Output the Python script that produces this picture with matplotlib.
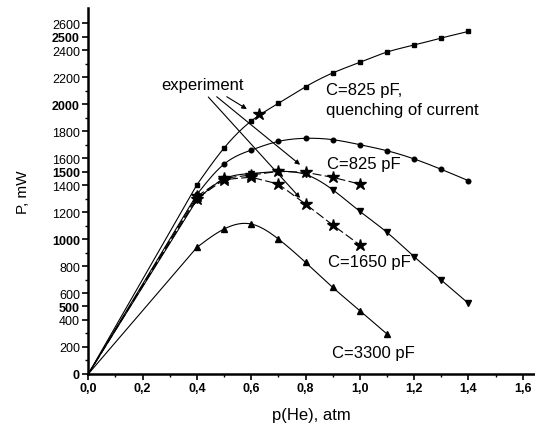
import numpy as np
import matplotlib
matplotlib.use("Agg")
import matplotlib.pyplot as plt

plt.rcParams['font.family'] = ['Liberation Sans', 'DejaVu Sans']

# ---- data ----
x_sq = [0.0, 0.4, 0.5, 0.6, 0.7, 0.8, 0.9, 1.0, 1.1, 1.2, 1.3, 1.4]
p_sq = [0, 1402, 1674, 1874, 2005, 2128, 2230, 2309, 2385, 2437, 2489, 2538]

x_ci = [0.0, 0.4, 0.5, 0.6, 0.7, 0.8, 0.9, 1.0, 1.1, 1.2, 1.3, 1.4]
p_ci = [0, 1330, 1555, 1659, 1723, 1746, 1736, 1699, 1654, 1593, 1516, 1432]

x_dt = [0.0, 0.4, 0.5, 0.6, 0.7, 0.8, 0.9, 1.0, 1.1, 1.2, 1.3, 1.4]
p_dt = [0, 1290, 1445, 1485, 1500, 1478, 1365, 1205, 1049, 869, 696, 523]

x_ut = [0.0, 0.4, 0.5, 0.6, 0.7, 0.8, 0.9, 1.0, 1.1]
p_ut = [0, 938, 1074, 1111, 1000, 827, 642, 469, 296]

x_exA = [0.0, 0.4, 0.5, 0.6, 0.7, 0.8, 0.9, 1.0]
p_exA = [0, 1316, 1450, 1474, 1501, 1494, 1457, 1407]

x_exB = [0.0, 0.4, 0.5, 0.6, 0.7, 0.8, 0.9, 1.0]
p_exB = [0, 1300, 1440, 1458, 1407, 1259, 1104, 956]

x_exQ = [0.63]
p_exQ = [1926]

y_ticks = [0, 200, 400, 500, 600, 800, 1000, 1200, 1400, 1500, 1600, 1800, 2000, 2200, 2400, 2500, 2600]
y_bold = [0, 500, 1000, 1500, 2000, 2500]
x_ticks = [0.0, 0.2, 0.4, 0.6, 0.8, 1.0, 1.2, 1.4, 1.6]


def natural_spline(x, y, n=30):
    x = np.asarray(x, float)
    y = np.asarray(y, float)
    m = len(x)
    h = np.diff(x)
    A = np.zeros((m, m))
    b = np.zeros(m)
    A[0, 0] = 1
    A[-1, -1] = 1
    for i in range(1, m - 1):
        A[i, i - 1] = h[i - 1]
        A[i, i] = 2 * (h[i - 1] + h[i])
        A[i, i + 1] = h[i]
        b[i] = 3 * ((y[i + 1] - y[i]) / h[i] - (y[i] - y[i - 1]) / h[i - 1])
    c = np.linalg.solve(A, b)
    xs, ys = [], []
    for i in range(m - 1):
        t = np.linspace(0, h[i], n, endpoint=(i == m - 2))
        bb = (y[i + 1] - y[i]) / h[i] - h[i] * (2 * c[i] + c[i + 1]) / 3
        d = (c[i + 1] - c[i]) / (3 * h[i])
        xs.append(x[i] + t)
        ys.append(y[i] + bb * t + c[i] * t ** 2 + d * t ** 3)
    return np.concatenate(xs), np.concatenate(ys)


def curve(x, y):
    sx, sy = natural_spline(x[1:], y[1:])
    return np.concatenate([[x[0]], sx]), np.concatenate([[y[0]], sy])


fig = plt.figure(figsize=(5.35, 4.27), dpi=100)
ax = fig.add_axes([0.165, 0.1218, 0.835, 0.857])

lw = 0.8
for xs, ps, mk, ms in [(x_sq, p_sq, 's', 3.0), (x_ci, p_ci, 'o', 3.3),
                       (x_dt, p_dt, 'v', 4.0), (x_ut, p_ut, '^', 4.0)]:
    cx, cy = curve(xs, ps)
    ax.plot(cx, cy, color='black', lw=lw)
    ax.plot(xs[1:], ps[1:], ls='none', marker=mk, ms=ms, color='black')

for xs, ps in [(x_exA, p_exA), (x_exB, p_exB)]:
    ax.plot(xs, ps, color='black', lw=lw, dashes=(8, 3))
    ax.plot(xs[1:], ps[1:], ls='none', marker='*', ms=9, color='black')
ax.plot(x_exQ, p_exQ, ls='none', marker='*', ms=9, color='black')

# annotations
ax.text(0.27, 2141, 'experiment', fontsize=12, va='center', ha='left')
arrow_kw = dict(arrowstyle='-|>', color='black', lw=0.8, mutation_scale=7, shrinkA=0, shrinkB=0)
ax.annotate('', xy=(0.584, 1963), xytext=(0.51, 2054), arrowprops=arrow_kw)
ax.annotate('', xy=(0.78, 1550), xytext=(0.473, 2054), arrowprops=arrow_kw)
ax.annotate('', xy=(0.78, 1304), xytext=(0.442, 2052), arrowprops=arrow_kw)

ax.text(0.874, 2111, 'C=825 pF,', fontsize=12, va='center', ha='left')
ax.text(0.874, 1963, 'quenching of current', fontsize=12, va='center', ha='left')
ax.text(0.88, 1563, 'C=825 pF', fontsize=12, va='center', ha='left')
ax.text(0.884, 835, 'C=1650 pF', fontsize=12, va='center', ha='left')
ax.text(0.896, 156, 'C=3300 pF', fontsize=12, va='center', ha='left')

ax.set_xlim(0, 1.645)
ax.set_ylim(0, 2711)

for s in ['top', 'right']:
    ax.spines[s].set_visible(False)
for s in ['left', 'bottom']:
    ax.spines[s].set_linewidth(1.8)

ax.set_xticks(x_ticks)
ax.set_xticklabels([f'{v:.1f}'.replace('.', ',') for v in x_ticks], fontweight='bold', fontsize=9)
ax.set_xticks(np.arange(0.1, 1.65, 0.2), minor=True)
ax.set_yticks(y_ticks)
ax.set_yticklabels([str(v) for v in y_ticks], fontsize=9)
for lab, v in zip(ax.get_yticklabels(), y_ticks):
    if v in y_bold:
        lab.set_fontweight('bold')
ax.set_yticks(np.arange(100, 2700, 100), minor=True)
ax.tick_params(axis='both', which='major', direction='out', length=4, width=1.2, pad=2)
ax.tick_params(axis='both', which='minor', direction='out', length=2.5, width=1.0)

ax.set_xlabel('p(He), atm', fontsize=12, labelpad=9)
ax.set_ylabel('P, mW', fontsize=11, labelpad=16)

fig.savefig('out.png', dpi=100)
